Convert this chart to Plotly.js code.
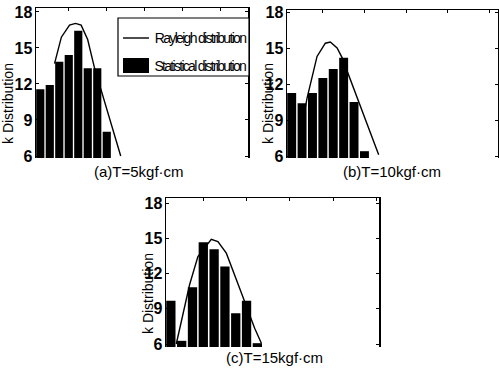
<!DOCTYPE html>
<html>
<head>
<meta charset="utf-8">
<script src="https://cdn.plot.ly/plotly-3.0.1.min.js"></script>
<style>
html,body{margin:0;padding:0;background:#fff;}
#chart{width:499px;height:374px;}
</style>
</head>
<body>
<div id="chart"></div>
<script>
// ---- data ----
const binsA = [1, 2, 3, 4, 5, 6, 7, 8];
const statA = [11.56, 11.92, 13.86, 14.42, 16.44, 13.31, 13.31, 8.03];
const rayAx = [2.5, 3.22, 4.08, 4.71, 5.3, 5.99, 6.69, 9.47];
const rayAy = [13.7, 15.9, 16.9, 17.05, 16.9, 15.7, 13.4, 6.0];

const binsB = [1, 2, 3, 4, 5, 6, 7, 8];
const statB = [11.25, 10.4, 11.25, 12.5, 13.25, 14.2, 10.5, 6.4];
const rayBx = [2.3, 2.48, 3.44, 4.24, 4.72, 5.37, 5.85, 9.37];
const rayBy = [10.0, 10.83, 14.3, 15.4, 15.5, 15.0, 14.2, 6.1];

const binsC = [1, 2, 3, 4, 5, 6, 7, 8, 9];
const statC = [9.68, 6.27, 10.83, 14.67, 14.07, 12.6, 8.62, 9.68, 6.07];
const rayCx = [1.5, 2.73, 3.5, 4.74, 5.35, 6.13, 7.36, 8.75, 9.37];
const rayCy = [6.0, 11.04, 13.45, 14.92, 14.72, 13.73, 10.75, 7.34, 6.07];

const yTickVals = [6, 9, 12, 15, 18];
const yTickText = ["6", "9", "12", "15", "18"];
const panelTitles = ["(a)T=5kgf·cm", "(b)T=10kgf·cm", "(c)T=15kgf·cm"];
const yTitle = "k Distribution";
const legendNames = ["Rayleigh distribution", "Statistical distribution"];

// ---- helpers ----
const W = 499, H = 374;
const px = v => v / W;
const py = v => 1 - v / H;

function bar(x, y, xa, ya) {
  return {type: 'bar', x: x, y: y, xaxis: xa, yaxis: ya,
          marker: {color: '#000', line: {width: 0}}, showlegend: false, hoverinfo: 'skip'};
}
function curve(x, y, xa, ya) {
  return {type: 'scatter', mode: 'lines', x: x, y: y, xaxis: xa, yaxis: ya,
          line: {color: '#000', width: 1.4}, showlegend: false, hoverinfo: 'skip'};
}
function xax(domain, range, anchor) {
  return {domain: domain, range: range, anchor: anchor, side: 'top',
          showline: true, linecolor: '#000', linewidth: 1.5,
          ticks: 'inside', ticklen: 3, tickcolor: '#000', dtick: 4,
          showticklabels: false, showgrid: false, zeroline: false, fixedrange: true};
}
function yax(domain, range, anchor) {
  return {domain: domain, range: range, anchor: anchor,
          showline: true, mirror: 'ticks', linecolor: '#000', linewidth: 1.5,
          ticks: 'inside', ticklen: 3, tickcolor: '#000',
          tickmode: 'array', tickvals: yTickVals, ticktext: yTickText,
          tickfont: {family: 'Liberation Sans, Arial, sans-serif', size: 16, color: '#000', weight: 'bold'},
          ticklabelstandoff: -1,
          showgrid: false, zeroline: false, fixedrange: true};
}

const data = [
  bar(binsA, statA, 'x', 'y'),
  curve(rayAx, rayAy, 'x', 'y'),
  bar(binsB, statB, 'x2', 'y2'),
  curve(rayBx, rayBy, 'x2', 'y2'),
  bar(binsC, statC, 'x3', 'y3'),
  curve(rayCx, rayCy, 'x3', 'y3')
];

const fontT = {family: 'Liberation Sans, Arial, sans-serif', size: 15, color: '#000'};
const fontY = {family: 'Liberation Sans, Arial, sans-serif', size: 14, color: '#000'};
const fontL = {family: 'Liberation Sans, Arial, sans-serif', size: 14, color: '#000'};

const layout = {
  width: W, height: H,
  margin: {l: 0, r: 0, t: 0, b: 0},
  paper_bgcolor: '#fff', plot_bgcolor: '#fff',
  showlegend: false,
  bargap: 0.14,
  xaxis:  xax([px(36), px(248)], [0.55, 22.87], 'y'),
  yaxis:  yax([py(158), py(8)], [5.833, 18.33], 'x'),
  xaxis2: xax([px(287), px(498)], [0.55, 20.85], 'y2'),
  yaxis2: yax([py(158), py(10)], [5.833, 18.17], 'x2'),
  xaxis3: xax([px(166), px(379)], [0.55, 20.25], 'y3'),
  yaxis3: yax([py(347), py(198)], [5.745, 18.43], 'x3'),
  shapes: [
    {type: 'rect', xref: 'paper', yref: 'paper', x0: px(118), x1: px(249), y0: py(76), y1: py(18),
     line: {color: '#000', width: 1.2}, fillcolor: '#fff', layer: 'above'},
    {type: 'line', xref: 'paper', yref: 'paper', x0: px(123), x1: px(149), y0: py(38), y1: py(38),
     line: {color: '#000', width: 1.4}, layer: 'above'},
    {type: 'rect', xref: 'paper', yref: 'paper', x0: px(123), x1: px(149), y0: py(73), y1: py(58),
     line: {width: 0}, fillcolor: '#000', layer: 'above'}
  ],
  annotations: [
    {text: panelTitles[0], xref: 'paper', yref: 'paper', x: px(139), y: py(171), xanchor: 'center', yanchor: 'middle', showarrow: false, font: fontT},
    {text: panelTitles[1], xref: 'paper', yref: 'paper', x: px(392), y: py(171), xanchor: 'center', yanchor: 'middle', showarrow: false, font: fontT},
    {text: panelTitles[2], xref: 'paper', yref: 'paper', x: px(274), y: py(357), xanchor: 'center', yanchor: 'middle', showarrow: false, font: fontT},
    {text: yTitle, xref: 'paper', yref: 'paper', x: px(8), y: py(104), xanchor: 'center', yanchor: 'middle', textangle: -90, showarrow: false, font: fontY},
    {text: yTitle, xref: 'paper', yref: 'paper', x: px(268), y: py(104), xanchor: 'center', yanchor: 'middle', textangle: -90, showarrow: false, font: fontY},
    {text: yTitle, xref: 'paper', yref: 'paper', x: px(148), y: py(294), xanchor: 'center', yanchor: 'middle', textangle: -90, showarrow: false, font: fontY},
    {text: legendNames[0], xref: 'paper', yref: 'paper', x: px(200), y: py(38), xanchor: 'center', yanchor: 'middle', showarrow: false, font: fontL},
    {text: legendNames[1], xref: 'paper', yref: 'paper', x: px(200), y: py(66), xanchor: 'center', yanchor: 'middle', showarrow: false, font: fontL}
  ]
};

Plotly.newPlot('chart', data, layout, {staticPlot: true, displayModeBar: false}).then(function () {
  const texts = document.querySelectorAll('.annotation-text');
  texts.forEach(function (t) {
    if (t.textContent === legendNames[0] || t.textContent === legendNames[1]) {
      t.style.letterSpacing = '-1.7px';
    }
  });
});
</script>
</body>
</html>
